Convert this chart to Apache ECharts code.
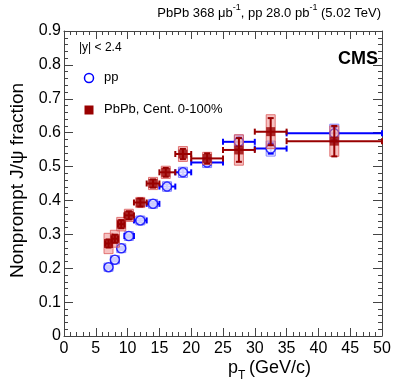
<!DOCTYPE html>
<html><head><meta charset="utf-8">
<script src="https://cdn.jsdelivr.net/npm/echarts@6/dist/echarts.min.js"></script>
<style>html,body{margin:0;padding:0;background:#fff}#c{width:399px;height:383px}</style>
</head><body><div id="c"></div>
<script>
// ---- data ----
const binLo = [6.5, 7.5, 8.5, 9.5, 11, 13, 15, 17.5, 20, 25, 30, 35];
const binHi = [7.5, 8.5, 9.5, 11, 13, 15, 17.5, 20, 25, 30, 35, 50];
const ppPt = [7, 8, 9, 10.2, 12, 14, 16.2, 18.7, 22.5, 27.5, 32.5, 42.5];
const ppFrac = [0.203, 0.225, 0.259, 0.295, 0.341, 0.390, 0.441, 0.483, 0.512, 0.573, 0.553, 0.598];
const ppStat = [0.005, 0.005, 0.005, 0.005, 0.006, 0.006, 0.007, 0.008, 0.008, 0.012, 0.015, 0.02];
const ppSyst = [0.012, 0.012, 0.013, 0.013, 0.013, 0.013, 0.014, 0.015, 0.015, 0.02, 0.022, 0.027];
const pbPt = [7, 8, 9, 10.2, 12, 14, 16, 18.7, 22.5, 27.5, 32.5, 42.5];
const pbFrac = [0.273, 0.287, 0.330, 0.356, 0.394, 0.450, 0.483, 0.537, 0.524, 0.549, 0.603, 0.575];
const pbStat = [0.012, 0.012, 0.012, 0.012, 0.012, 0.012, 0.013, 0.015, 0.015, 0.035, 0.04, 0.045];
const pbSyst = [0.03, 0.025, 0.02, 0.018, 0.015, 0.018, 0.018, 0.022, 0.018, 0.045, 0.05, 0.045];
const xTicks = [0, 5, 10, 15, 20, 25, 30, 35, 40, 45, 50];
const yTicks = [0, 0.1, 0.2, 0.3, 0.4, 0.5, 0.6, 0.7, 0.8, 0.9];

const FONT = 'Liberation Sans, Arial, sans-serif';
const chart = echarts.init(document.getElementById('c'));

function errData(pt, v, st, sy) {
  return pt.map((x, i) => [x, v[i], binLo[i], binHi[i], st[i], sy[i]]);
}
function makeRender(color, boxFill, boxStroke) {
  return function (params, api) {
    const x = api.value(0), y = api.value(1);
    const p = api.coord([x, y]);
    const pl = api.coord([api.value(2), y]);
    const ph = api.coord([api.value(3), y]);
    const st = api.coord([x, y + api.value(4)]);
    const sb = api.coord([x, y - api.value(4)]);
    const yt = api.coord([x, y + api.value(5)]);
    const yb = api.coord([x, y - api.value(5)]);
    const ls = { stroke: color, lineWidth: 2 };
    const cap = 3;
    return {
      type: 'group',
      children: [
        { type: 'rect', shape: { x: p[0] - 4.5, y: yt[1], width: 9, height: yb[1] - yt[1] },
          style: { fill: boxFill, stroke: boxStroke, lineWidth: 1 } },
        { type: 'line', shape: { x1: pl[0], y1: p[1], x2: ph[0], y2: p[1] }, style: ls },
        { type: 'line', shape: { x1: pl[0], y1: p[1] - cap, x2: pl[0], y2: p[1] + cap }, style: ls },
        { type: 'line', shape: { x1: ph[0], y1: p[1] - cap, x2: ph[0], y2: p[1] + cap }, style: ls },
        { type: 'line', shape: { x1: p[0], y1: st[1], x2: p[0], y2: sb[1] }, style: ls },
        { type: 'line', shape: { x1: p[0] - cap, y1: st[1], x2: p[0] + cap, y2: st[1] }, style: ls },
        { type: 'line', shape: { x1: p[0] - cap, y1: sb[1], x2: p[0] + cap, y2: sb[1] }, style: ls }
      ]
    };
  };
}

const axisCommon = {
  type: 'value',
  axisLine: { show: true, onZero: false, lineStyle: { color: '#444', width: 1 } },
  axisTick: { show: true, inside: true, length: 8, lineStyle: { color: '#444' } },
  minorTick: { show: true, splitNumber: 5, length: 4, lineStyle: { color: '#444' } },
  splitLine: { show: false }
};

chart.setOption({
  animation: false,
  backgroundColor: '#fff',
  grid: { left: 64, right: 17, top: 31, bottom: 47 },
  xAxis: [
    Object.assign({}, axisCommon, { min: xTicks[0], max: xTicks[xTicks.length - 1], interval: 5, position: 'bottom',
      axisLabel: { fontSize: 16, color: '#000', margin: 5, fontFamily: FONT } }),
    Object.assign({}, axisCommon, { min: xTicks[0], max: xTicks[xTicks.length - 1], interval: 5, position: 'top',
      axisLabel: { show: false } })
  ],
  yAxis: [
    Object.assign({}, axisCommon, { min: yTicks[0], max: yTicks[yTicks.length - 1], interval: 0.1, position: 'left',
      axisTick: { show: true, inside: true, length: 9, lineStyle: { color: '#444' } },
      axisLabel: { fontSize: 16, color: '#000', margin: 3, fontFamily: FONT,
        formatter: v => (Math.abs(v) < 1e-9 ? '0' : v.toFixed(1)) } }),
    Object.assign({}, axisCommon, { min: yTicks[0], max: yTicks[yTicks.length - 1], interval: 0.1, position: 'right',
      axisTick: { show: true, inside: true, length: 9, lineStyle: { color: '#444' } },
      axisLabel: { show: false } })
  ],
  series: [
    { type: 'custom', xAxisIndex: 0, yAxisIndex: 0, z: 2,
      renderItem: makeRender('#0000ff', 'rgba(255,255,255,0)', '#7f7fff'),
      data: errData(ppPt, ppFrac, ppStat, ppSyst), encode: { x: 0, y: 1 } },
    { type: 'scatter', xAxisIndex: 0, yAxisIndex: 0, z: 3, symbol: 'circle', symbolSize: 9,
      itemStyle: { color: '#fff', borderColor: '#0000ff', borderWidth: 1.5 },
      data: ppPt.map((x, i) => [x, ppFrac[i]]) },
    { type: 'custom', xAxisIndex: 0, yAxisIndex: 0, z: 4,
      renderItem: makeRender('#990000', 'rgba(235,120,120,0.45)', 'rgba(220,90,90,0.8)'),
      data: errData(pbPt, pbFrac, pbStat, pbSyst), encode: { x: 0, y: 1 } },
    { type: 'scatter', xAxisIndex: 0, yAxisIndex: 0, z: 5, symbol: 'rect', symbolSize: 9,
      itemStyle: { color: '#990000' },
      data: pbPt.map((x, i) => [x, pbFrac[i]]) }
  ],
  graphic: [
    { type: 'text', right: 18, top: 3, style: {
        text: '{n|PbPb 368 μb}{s|-1}{n|, pp 28.0 pb}{s|-1}{n| (5.02 TeV)}',
        rich: { n: { font: '13px ' + FONT, fill: '#000', verticalAlign: 'bottom', lineHeight: 17 },
                s: { font: '9px ' + FONT, fill: '#000', verticalAlign: 'top', lineHeight: 17 } } } },
    { type: 'text', right: 21, top: 50, style: { text: 'CMS', font: 'bold 18px ' + FONT, fill: '#000' } },
    { type: 'text', left: 79, top: 42, style: { text: '|y| < 2.4', font: '12px ' + FONT, fill: '#000' } },
    { type: 'circle', shape: { cx: 89, cy: 78, r: 4.5 }, style: { fill: '#fff', stroke: '#0000ff', lineWidth: 1.5 } },
    { type: 'text', left: 104, top: 71, style: { text: 'pp', font: '13px ' + FONT, fill: '#000' } },
    { type: 'rect', shape: { x: 84.5, y: 105.5, width: 9, height: 9 }, style: { fill: '#990000' } },
    { type: 'text', left: 104, top: 103, style: { text: 'PbPb, Cent. 0-100%', font: '13px ' + FONT, fill: '#000' } },
    { type: 'text', x: 18, y: 278, rotation: Math.PI / 2, style: { text: 'Nonprompt J/ψ fraction', font: '19px ' + FONT, fill: '#000', textAlign: 'left', textVerticalAlign: 'middle' } },
    { type: 'text', left: 228, top: 359, style: { text: 'p', font: '18px ' + FONT, fill: '#000' } },
    { type: 'text', left: 238, top: 370, style: { text: 'T', font: '12px ' + FONT, fill: '#000' } },
    { type: 'text', left: 249, top: 359, style: { text: '(GeV/c)', font: '18px ' + FONT, fill: '#000' } }
  ]
});
</script></body></html>
